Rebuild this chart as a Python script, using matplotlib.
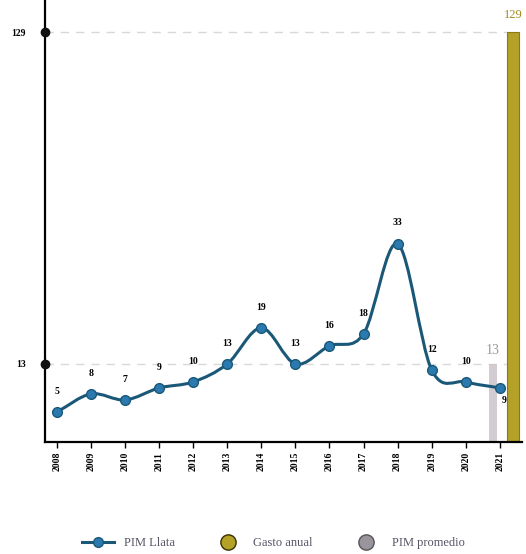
import numpy as np
import matplotlib.pyplot as plt
from matplotlib.path import Path
from matplotlib.patches import PathPatch
from matplotlib.lines import Line2D

years = [2008, 2009, 2010, 2011, 2012, 2013, 2014, 2015, 2016, 2017, 2018, 2019, 2020, 2021]
pim_llata = [5, 8, 7, 9, 10, 13, 19, 13, 16, 18, 33, 12, 10, 9]
gasto_anual = 129
pim_promedio = 13
ref_levels = [13, 129]

plt.rcParams['font.family'] = ['Liberation Serif', 'DejaVu Serif']

# the original axis is squeezed above the line's range so the 129 bar fits
BREAK = 40.0
K = 0.317


def fwd(v):
    v = np.asarray(v, dtype=float)
    return np.where(v <= BREAK, v, BREAK + (v - BREAK) * K)


def inv(v):
    v = np.asarray(v, dtype=float)
    return np.where(v <= BREAK, v, BREAK + (v - BREAK) / K)


fig = plt.figure(figsize=(5.26, 5.54), dpi=100)
ax = fig.add_axes([0.0856, 0.2022, 0.9064, 0.7978])
ax.set_yscale('function', functions=(fwd, inv))
ax.set_xlim(2007.65, 2021.645)
ax.set_ylim(0, float(inv(73.6)))

line_col = '#1b5878'
mark_col = '#2a7ab0'
gold = '#b3a128'
gray = '#cdc4cc'

# reference dashed lines with dots on the axis
for lv in ref_levels:
    ax.axhline(lv, xmin=0, xmax=0.97, color='#d8d8d8', lw=1, ls=(0, (6, 5)), zorder=1)
    ax.plot([2007.65], [lv], 'o', color='#111111', ms=6, clip_on=False, zorder=5)

# bars for 2021
ax.bar(years[-1] - 0.2, pim_promedio, width=0.25, color=gray, alpha=0.85, zorder=2)
ax.bar(years[-1] + 0.39, gasto_anual, width=0.36, color=gold, edgecolor='#8a7a10', lw=0.8, zorder=2)
ax.text(years[-1] - 0.2, pim_promedio + 1.2, str(pim_promedio), ha='center', va='bottom',
        fontsize=10, color='#9a9a9a')
ax.text(years[-1] + 0.39, gasto_anual + 6, str(gasto_anual), ha='center', va='bottom',
        fontsize=9, color='#a08a20', clip_on=False)

# smooth line through the points (cubic bezier, catmull-rom tangents)
x = np.array(years, dtype=float)
y = np.array(pim_llata, dtype=float)
n = len(x)
t = np.zeros(n)
t[1:-1] = (y[2:] - y[:-2]) / 2.0
t[0] = y[1] - y[0]
t[-1] = y[-1] - y[-2]
verts = [(x[0], y[0])]
codes = [Path.MOVETO]
for i in range(n - 1):
    verts += [(x[i] + 1 / 3, y[i] + t[i] / 3), (x[i + 1] - 1 / 3, y[i + 1] - t[i + 1] / 3), (x[i + 1], y[i + 1])]
    codes += [Path.CURVE4] * 3
ax.add_patch(PathPatch(Path(verts, codes), fc='none', ec=line_col, lw=2.2, zorder=3))
ax.plot(years, pim_llata, 'o', color=mark_col, mec=line_col, ms=7, zorder=4)

for xx, yy in zip(years, pim_llata):
    if xx == 2021:
        ax.annotate(str(yy), (xx, yy), xytext=(3, -9), textcoords='offset points',
                    ha='center', va='center', fontsize=7, fontweight='bold')
    else:
        ax.annotate(str(yy), (xx, yy), xytext=(0, 15), textcoords='offset points',
                    ha='center', va='center', fontsize=7, fontweight='bold')

ax.set_xticks(years)
ax.set_xticklabels([str(v) for v in years], rotation=90, fontsize=7, fontweight='bold')
ax.set_yticks(ref_levels)
ax.set_yticklabels([str(v) for v in ref_levels], fontsize=7, fontweight='bold')
ax.tick_params(axis='y', length=0, pad=14)
ax.tick_params(axis='x', length=4, width=1, pad=3)
ax.yaxis.set_minor_locator(plt.NullLocator())

ax.spines['top'].set_visible(False)
ax.spines['right'].set_visible(False)
ax.spines['left'].set_linewidth(1.6)
ax.spines['bottom'].set_linewidth(1.6)

handles = [
    Line2D([], [], color=line_col, lw=2.2, marker='o', mfc=mark_col, ms=7),
    Line2D([], [], ls='none', marker='o', mfc=gold, mec='#3a3000', ms=11),
    Line2D([], [], ls='none', marker='o', mfc='#9a949c', mec='#555555', ms=11),
]
fig.legend(handles, ['PIM Llata', 'Gasto anual', 'PIM promedio'], loc='center',
           bbox_to_anchor=(0.52, 0.02), ncol=3, frameon=False, fontsize=9,
           labelcolor='#555566', columnspacing=3, handlelength=2.5)

fig.savefig('out.png', dpi=100)
